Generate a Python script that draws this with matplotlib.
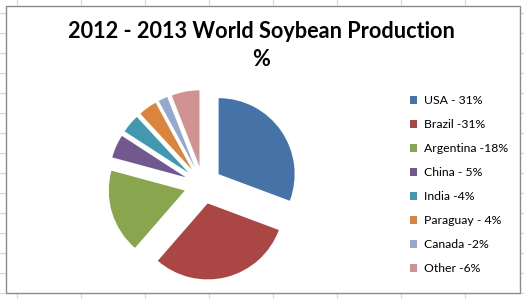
import matplotlib
matplotlib.use("Agg")
import matplotlib.pyplot as plt
from matplotlib.patches import Rectangle

countries = ["USA", "Brazil", "Argentina", "China", "India", "Paraguay", "Canada", "Other"]
shares = [31, 31, 18, 5, 4, 4, 2, 6]
legend_labels = ["USA - 31%", "Brazil -31%", "Argentina -18%", "China - 5%",
                 "India -4%", "Paraguay - 4%", "Canada -2%", "Other -6%"]
colors = ["#4572A7", "#AA4643", "#89A54E", "#71588F",
          "#4198AF", "#DB843D", "#93A9CF", "#D19392"]

W, H = 524, 299
fig = plt.figure(figsize=(W / 100, H / 100), dpi=100)

# spreadsheet background + chart frame, in pixel coords
bg = fig.add_axes([0, 0, 1, 1])
bg.set_xlim(0, W)
bg.set_ylim(H, 0)
bg.axis("off")
for x in range(17, W, 64):
    bg.plot([x, x], [0, H], color="#d0d7e5", lw=0.8)
for y in range(13, H, 20):
    bg.plot([0, W], [y, y], color="#d0d7e5", lw=0.8)
bg.add_patch(Rectangle((5.5, 5.5), 514, 287, facecolor="white",
                       edgecolor="#8c8c8c", lw=1.0, zorder=3))

# pie: center at (203, 185) px, radius 76 px
cx, cy, r = 203, 185, 76
ax = fig.add_axes([0, 0, 1, 1])
ax.patch.set_alpha(0)
wedges, _ = ax.pie(shares, colors=colors, startangle=90, counterclock=False,
                   explode=[0.25] * len(shares),
                   wedgeprops=dict(linewidth=0))
ax.set_xlim(-cx / r, (W - cx) / r)
ax.set_ylim(-(H - cy) / r, cy / r)
ax.set_aspect("auto")
ax.axis("off")

fig.text(261 / W, 1 - 31 / H, "2012 - 2013 World Soybean Production",
         ha="center", va="center", fontsize=15.6, fontweight="bold",
         family="Lato")
fig.text(261 / W, 1 - 60 / H, "%", ha="center", va="center",
         fontsize=15.6, fontweight="bold", family="Lato")

leg = ax.legend(wedges, legend_labels, loc="upper left",
                bbox_to_anchor=(399 / W, 1 - 84.5 / H),
                bbox_transform=fig.transFigure, frameon=False,
                prop=dict(family="Lato", size=8.8),
                handlelength=0.6, handleheight=0.6, handletextpad=0.55,
                labelspacing=1.06)

fig.savefig("out.png", dpi=100)
